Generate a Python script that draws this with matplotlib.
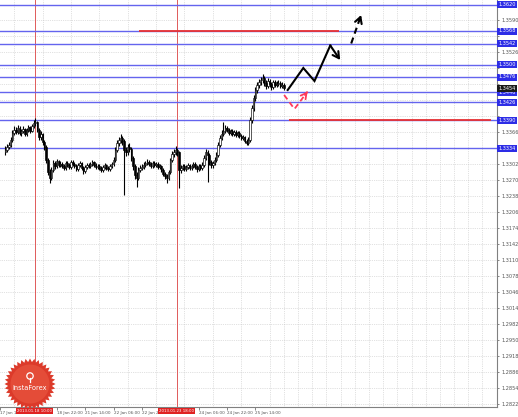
import numpy as np
import matplotlib
matplotlib.use('Agg')
import matplotlib.pyplot as plt
from matplotlib.patches import Polygon, Circle

# ---------------- data (H1 candles, EUR/USD) ----------------
opens = [1.3326,1.3330,1.3336,1.3340,1.3350,1.3364,
         1.3370,1.3366,1.3374,1.3364,1.3368,1.3372,1.3362,1.3370,1.3376,
         1.3368,1.3378,1.3384,
         1.3386,1.3370,1.3356,1.3362,1.3346,
         1.3336,1.3310,1.3286,1.3274,
         1.3290,1.3304,1.3298,1.3308,
         1.3300,1.3302,1.3298,1.3294,1.3304,1.3300,1.3296,1.3306,1.3302,1.3298,1.3292,1.3300,1.3304,1.3294,1.3288,1.3296,1.3300,1.3298,1.3302,1.3306,1.3300,1.3296,1.3298,1.3294,1.3290,1.3296,1.3300,1.3294,1.3292,1.3298,1.3302,
         1.3310,1.3330,1.3344,1.3350,1.3354,
         1.3348,1.3330,1.3326,1.3336,
         1.3332,1.3314,1.3298,1.3280,
         1.3274,1.3290,1.3294,1.3296,
         1.3300,1.3304,1.3306,1.3302,1.3298,1.3304,1.3300,1.3302,1.3296,
         1.3298,1.3290,1.3282,1.3278,1.3274,
         1.3286,1.3310,1.3322,1.3326,1.3330,
         1.3326,
         1.3290,1.3294,1.3298,1.3292,1.3296,1.3300,1.3294,1.3298,1.3302,1.3296,1.3292,1.3298,1.3294,
         1.3300,1.3314,1.3326,1.3320,
         1.3306,1.3300,1.3304,1.3310,
         1.3320,1.3340,1.3354,1.3362,
         1.3368,1.3374,1.3370,1.3364,1.3368,1.3362,1.3366,1.3360,1.3364,1.3358,1.3354,
         1.3356,1.3348,1.3344,
         1.3350,1.3390,1.3414,
         1.3434,1.3450,1.3460,1.3466,1.3470,
         1.3474,1.3464,1.3458,1.3468,1.3462,1.3456,1.3466,1.3460,1.3462,1.3464,1.3458,1.3460]

highs = [1.3338,1.3342,1.3346,1.3356,1.3370,1.3378,
         1.3376,1.3380,1.3378,1.3372,1.3378,1.3374,1.3374,1.3380,1.3378,
         1.3382,1.3390,1.3394,
         1.3388,1.3374,1.3368,1.3364,1.3350,
         1.3340,1.3314,1.3292,1.3296,
         1.3310,1.3308,1.3312,1.3310,
         1.3308,1.3306,1.3302,1.3308,1.3308,1.3304,1.3310,1.3310,1.3306,1.3302,1.3304,1.3308,1.3306,1.3298,1.3300,1.3304,1.3304,1.3306,1.3310,1.3308,1.3304,1.3302,1.3302,1.3298,1.3300,1.3304,1.3302,1.3298,1.3302,1.3306,1.3316,
         1.3336,1.3350,1.3356,1.3362,1.3358,
         1.3352,1.3336,1.3342,1.3344,
         1.3336,1.3318,1.3302,1.3286,
         1.3296,1.3300,1.3302,1.3306,
         1.3308,1.3312,1.3310,1.3306,1.3308,1.3308,1.3306,1.3306,1.3302,
         1.3300,1.3294,1.3286,1.3282,1.3290,
         1.3314,1.3328,1.3332,1.3338,1.3334,
         1.3328,
         1.3300,1.3302,1.3302,1.3300,1.3304,1.3302,1.3302,1.3306,1.3306,1.3300,1.3302,1.3302,1.3306,
         1.3320,1.3332,1.3330,1.3324,
         1.3310,1.3308,1.3316,1.3326,
         1.3346,1.3360,1.3370,1.3386,
         1.3380,1.3378,1.3374,1.3372,1.3372,1.3370,1.3370,1.3368,1.3368,1.3362,1.3360,
         1.3358,1.3352,1.3356,
         1.3396,1.3420,1.3440,
         1.3456,1.3466,1.3472,1.3476,1.3482,
         1.3478,1.3470,1.3474,1.3472,1.3466,1.3470,1.3470,1.3468,1.3470,1.3468,1.3466,1.3464]

lows = [1.3320,1.3326,1.3332,1.3336,1.3346,1.3360,
        1.3362,1.3362,1.3360,1.3358,1.3364,1.3358,1.3358,1.3366,1.3364,
        1.3366,1.3374,1.3378,
        1.3366,1.3350,1.3350,1.3340,1.3330,
        1.3304,1.3280,1.3264,1.3270,
        1.3286,1.3292,1.3294,1.3296,
        1.3296,1.3294,1.3290,1.3290,1.3296,1.3292,1.3292,1.3298,1.3294,1.3288,1.3288,1.3296,1.3290,1.3282,1.3284,1.3292,1.3294,1.3294,1.3298,1.3296,1.3292,1.3292,1.3290,1.3286,1.3286,1.3292,1.3290,1.3288,1.3288,1.3294,1.3298,
        1.3306,1.3326,1.3338,1.3344,1.3340,
        1.3240,1.3318,1.3320,1.3326,
        1.3308,1.3290,1.3272,1.3256,
        1.3270,1.3286,1.3290,1.3292,
        1.3296,1.3300,1.3298,1.3294,1.3294,1.3296,1.3296,1.3292,1.3292,
        1.3286,1.3278,1.3272,1.3264,1.3270,
        1.3282,1.3306,1.3316,1.3320,1.3318,
        1.3254,
        1.3284,1.3290,1.3288,1.3288,1.3292,1.3290,1.3290,1.3294,1.3292,1.3286,1.3288,1.3290,1.3290,
        1.3296,1.3310,1.3266,1.3300,
        1.3294,1.3294,1.3300,1.3306,
        1.3316,1.3336,1.3350,1.3358,
        1.3364,1.3366,1.3360,1.3360,1.3358,1.3358,1.3356,1.3356,1.3354,1.3350,1.3350,
        1.3344,1.3340,1.3340,
        1.3346,1.3384,1.3408,
        1.3428,1.3444,1.3454,1.3460,1.3464,
        1.3458,1.3452,1.3454,1.3456,1.3450,1.3452,1.3456,1.3456,1.3458,1.3454,1.3454,1.3450]

closes = [1.3330,1.3336,1.3340,1.3350,1.3364,1.3370,
          1.3366,1.3374,1.3364,1.3368,1.3372,1.3362,1.3370,1.3376,1.3368,
          1.3378,1.3384,1.3386,
          1.3370,1.3356,1.3362,1.3346,1.3336,
          1.3310,1.3286,1.3274,1.3290,
          1.3304,1.3298,1.3308,1.3300,
          1.3302,1.3298,1.3294,1.3304,1.3300,1.3296,1.3306,1.3302,1.3298,1.3292,1.3300,1.3304,1.3294,1.3288,1.3296,1.3300,1.3298,1.3302,1.3306,1.3300,1.3296,1.3298,1.3294,1.3290,1.3296,1.3300,1.3294,1.3292,1.3298,1.3302,1.3310,
          1.3330,1.3344,1.3350,1.3354,1.3348,
          1.3330,1.3326,1.3336,1.3332,
          1.3314,1.3298,1.3280,1.3274,
          1.3290,1.3294,1.3296,1.3300,
          1.3304,1.3306,1.3302,1.3298,1.3304,1.3300,1.3302,1.3296,1.3298,
          1.3290,1.3282,1.3278,1.3274,1.3286,
          1.3310,1.3322,1.3326,1.3330,1.3326,
          1.3290,
          1.3294,1.3298,1.3292,1.3296,1.3300,1.3294,1.3298,1.3302,1.3296,1.3292,1.3298,1.3294,1.3300,
          1.3314,1.3326,1.3320,1.3306,
          1.3300,1.3304,1.3310,1.3320,
          1.3340,1.3354,1.3362,1.3368,
          1.3374,1.3370,1.3364,1.3368,1.3362,1.3366,1.3360,1.3364,1.3358,1.3354,1.3356,
          1.3348,1.3344,1.3350,
          1.3390,1.3414,1.3434,
          1.3450,1.3460,1.3466,1.3470,1.3474,
          1.3464,1.3458,1.3468,1.3462,1.3456,1.3466,1.3460,1.3462,1.3464,1.3458,1.3460,1.3454]

# horizontal levels (blue) and their boxed labels
level_prices = [1.3620, 1.3568, 1.3542, 1.3500, 1.3476, 1.3446, 1.3426, 1.3390, 1.3334]
current_price = 1.3454

# red lines: (price, start bar, end bar)
red_line_prices = [1.3568, 1.3390]
red_line_starts = [75.5, 160]
red_line_ends = [188, 274]

# vertical markers and their date boxes
vline_bars = [16.5, 96.6]
vline_labels = ["2013.01.18 10:00", "2013.01.23 18:00"]

# forecast paths
black_path_x = [159.2, 168.0, 174.3, 183.2, 188.8]
black_path_y = [1.3450, 1.3494, 1.3468, 1.3539, 1.3510]
black_dash_x = [195.0, 200.6]
black_dash_y = [1.3543, 1.3600]
red_dash_x = [157.2, 163.0, 170.4]
red_dash_y = [1.3440, 1.3412, 1.3447]

# axis ticks
ytick_values = [1.2822,1.2854,1.2886,1.2918,1.2950,1.2982,1.3014,1.3046,1.3078,1.3110,
                1.3142,1.3174,1.3206,1.3238,1.3270,1.3302,1.3334,1.3366,1.3398,1.3430,
                1.3462,1.3494,1.3526,1.3558,1.3590]
xtick_bars = [-3, 13, 29, 45, 61, 77, 93, 109, 125, 141]
xtick_labels = ["17 Jan 14:00", "", "18 Jan 22:00", "21 Jan 14:00", "22 Jan 06:00",
                "22 Jan 22:00", "", "24 Jan 06:00", "24 Jan 22:00", "25 Jan 14:00"]

# ---------------- figure ----------------
W, H = 518, 417
fig = plt.figure(figsize=(W / 100, H / 100), dpi=100)
fig.patch.set_facecolor('white')
ax = fig.add_axes([0, 10 / H, 497 / W, 407 / H])
ax.set_facecolor('white')
ax.set_xlim(-0.5, 277.2)
ax.set_ylim(1.2816, 1.3630)

o = np.array(opens); c = np.array(closes); h = np.array(highs); l = np.array(lows)
x = np.arange(len(c))
up = c >= o
ax.vlines(x, l, h, color='black', lw=0.8, zorder=3)
body_b = np.minimum(o, c)
body_h = np.maximum(np.abs(c - o), 0.00004)
ax.bar(x[up], body_h[up], bottom=body_b[up], width=0.8, color='white',
       edgecolor='black', linewidth=0.45, zorder=4)
ax.bar(x[~up], body_h[~up], bottom=body_b[~up], width=0.8, color='black',
       edgecolor='black', linewidth=0.45, zorder=4)

for p in level_prices:
    ax.axhline(p, color='#6464ee', lw=1.0, zorder=2)

for p, s, e in zip(red_line_prices, red_line_starts, red_line_ends):
    ax.hlines(p, s, e, color='#e83232', lw=1.3, zorder=5)

for b in vline_bars:
    ax.axvline(b, color='#e05a5a', lw=0.7, zorder=1)

# black solid zigzag with arrowhead
ax.plot(black_path_x[:-1], black_path_y[:-1], color='black', lw=1.5, zorder=6,
        solid_joinstyle='miter')
ax.annotate('', xy=(black_path_x[-1], black_path_y[-1]),
            xytext=(black_path_x[-2], black_path_y[-2]),
            arrowprops=dict(arrowstyle='->,head_length=0.45,head_width=0.25', color='black',
                            lw=1.5, shrinkA=0, shrinkB=0), zorder=6)
# black dashed arrow
ax.plot(black_dash_x, black_dash_y, color='black', lw=1.5, ls=(0, (3, 2)), zorder=6)
fx = black_dash_x[-1] - 0.2 * (black_dash_x[-1] - black_dash_x[0])
fy = black_dash_y[-1] - 0.2 * (black_dash_y[-1] - black_dash_y[0])
ax.annotate('', xy=(black_dash_x[-1], black_dash_y[-1]), xytext=(fx, fy),
            arrowprops=dict(arrowstyle='->,head_length=0.45,head_width=0.25', color='black',
                            lw=1.5, shrinkA=0, shrinkB=0), zorder=6)
# red dashed arrow
ax.plot(red_dash_x, red_dash_y, color='#ff3a5a', lw=1.3, ls=(0, (3, 2)), zorder=6)
rx = red_dash_x[-1] - 0.2 * (red_dash_x[-1] - red_dash_x[-2])
ry = red_dash_y[-1] - 0.2 * (red_dash_y[-1] - red_dash_y[-2])
ax.annotate('', xy=(red_dash_x[-1], red_dash_y[-1]), xytext=(rx, ry),
            arrowprops=dict(arrowstyle='->,head_length=0.4,head_width=0.22', color='#ff3a5a',
                            lw=1.3, shrinkA=0, shrinkB=0), zorder=6)

# axes styling
for s in ['top', 'left']:
    ax.spines[s].set_visible(False)
for s in ['right', 'bottom']:
    ax.spines[s].set_color('#808080')
    ax.spines[s].set_linewidth(0.8)

ax.yaxis.tick_right()
ax.set_yticks(ytick_values)
marked = level_prices + [current_price]
ylabs = []
for v in ytick_values:
    if min(abs(v - m) for m in marked) < 0.0014:
        ylabs.append('')
    else:
        ylabs.append(f'{v:.4f}')
ax.set_yticklabels(ylabs)
ax.tick_params(axis='y', labelsize=3.6, length=1.5, pad=1.5, colors='#555555', width=0.5)

ax.set_xticks(xtick_bars)
ax.set_xticklabels(xtick_labels)
for t in ax.get_xticklabels():
    t.set_ha('left')
ax.tick_params(axis='x', labelsize=3.0, length=2, pad=1, colors='#555555', width=0.5)
ax.set_xticks(np.arange(-3, 278, 8), minor=True)
ax.tick_params(axis='x', which='minor', length=0)
ax.grid(which='minor', axis='x', ls=':', color='#c4c4c4', lw=0.5)
ax.grid(which='major', axis='y', ls=':', color='#c4c4c4', lw=0.5)
ax.set_axisbelow(True)

ytr = ax.get_yaxis_transform()
for p in level_prices:
    ax.text(1.003, p, f'{p:.4f}', transform=ytr, ha='left', va='center', fontsize=3.6,
            color='white', clip_on=False, zorder=7,
            bbox=dict(boxstyle='square,pad=0.2', fc='#2d2de6', ec='none'))
ax.text(1.003, current_price, f'{current_price:.4f}', transform=ytr, ha='left', va='center',
        fontsize=3.6, color='white', clip_on=False, zorder=8,
        bbox=dict(boxstyle='square,pad=0.2', fc='#1a1a1a', ec='none'))

xtr = ax.get_xaxis_transform()
for b, lab in zip(vline_bars, vline_labels):
    ax.text(b, -0.005, lab, transform=xtr, ha='center', va='top', fontsize=2.8,
            color='white', clip_on=False, zorder=8,
            bbox=dict(boxstyle='square,pad=0.2', fc='#e02222', ec='none'))

# logo overlay (pixel coordinates)
ov = fig.add_axes([0, 0, 1, 1], zorder=10)
ov.set_xlim(0, W); ov.set_ylim(H, 0); ov.axis('off'); ov.patch.set_alpha(0)
cx, cy = 30, 384
n = 36
ang = np.linspace(0, 2 * np.pi, 2 * n, endpoint=False)
rad = np.where(np.arange(2 * n) % 2 == 0, 25.5, 22.0)
star = np.column_stack([cx + rad * np.cos(ang), cy + rad * np.sin(ang)])
ov.add_patch(Polygon(star, closed=True, fc='#dc3a2a', ec='none'))
ov.add_patch(Circle((cx, cy), 19.5, fc='#e44c38', ec='none'))
ov.add_patch(Circle((cx, cy - 8), 3.2, fc='none', ec='white', lw=0.9))
ov.plot([cx, cx], [cy - 6, cy - 2], color='white', lw=0.9)
ov.text(cx, cy + 4, 'InstaForex', ha='center', va='center', fontsize=4.8, color='white')

fig.savefig('out.png', dpi=100, facecolor='white')
